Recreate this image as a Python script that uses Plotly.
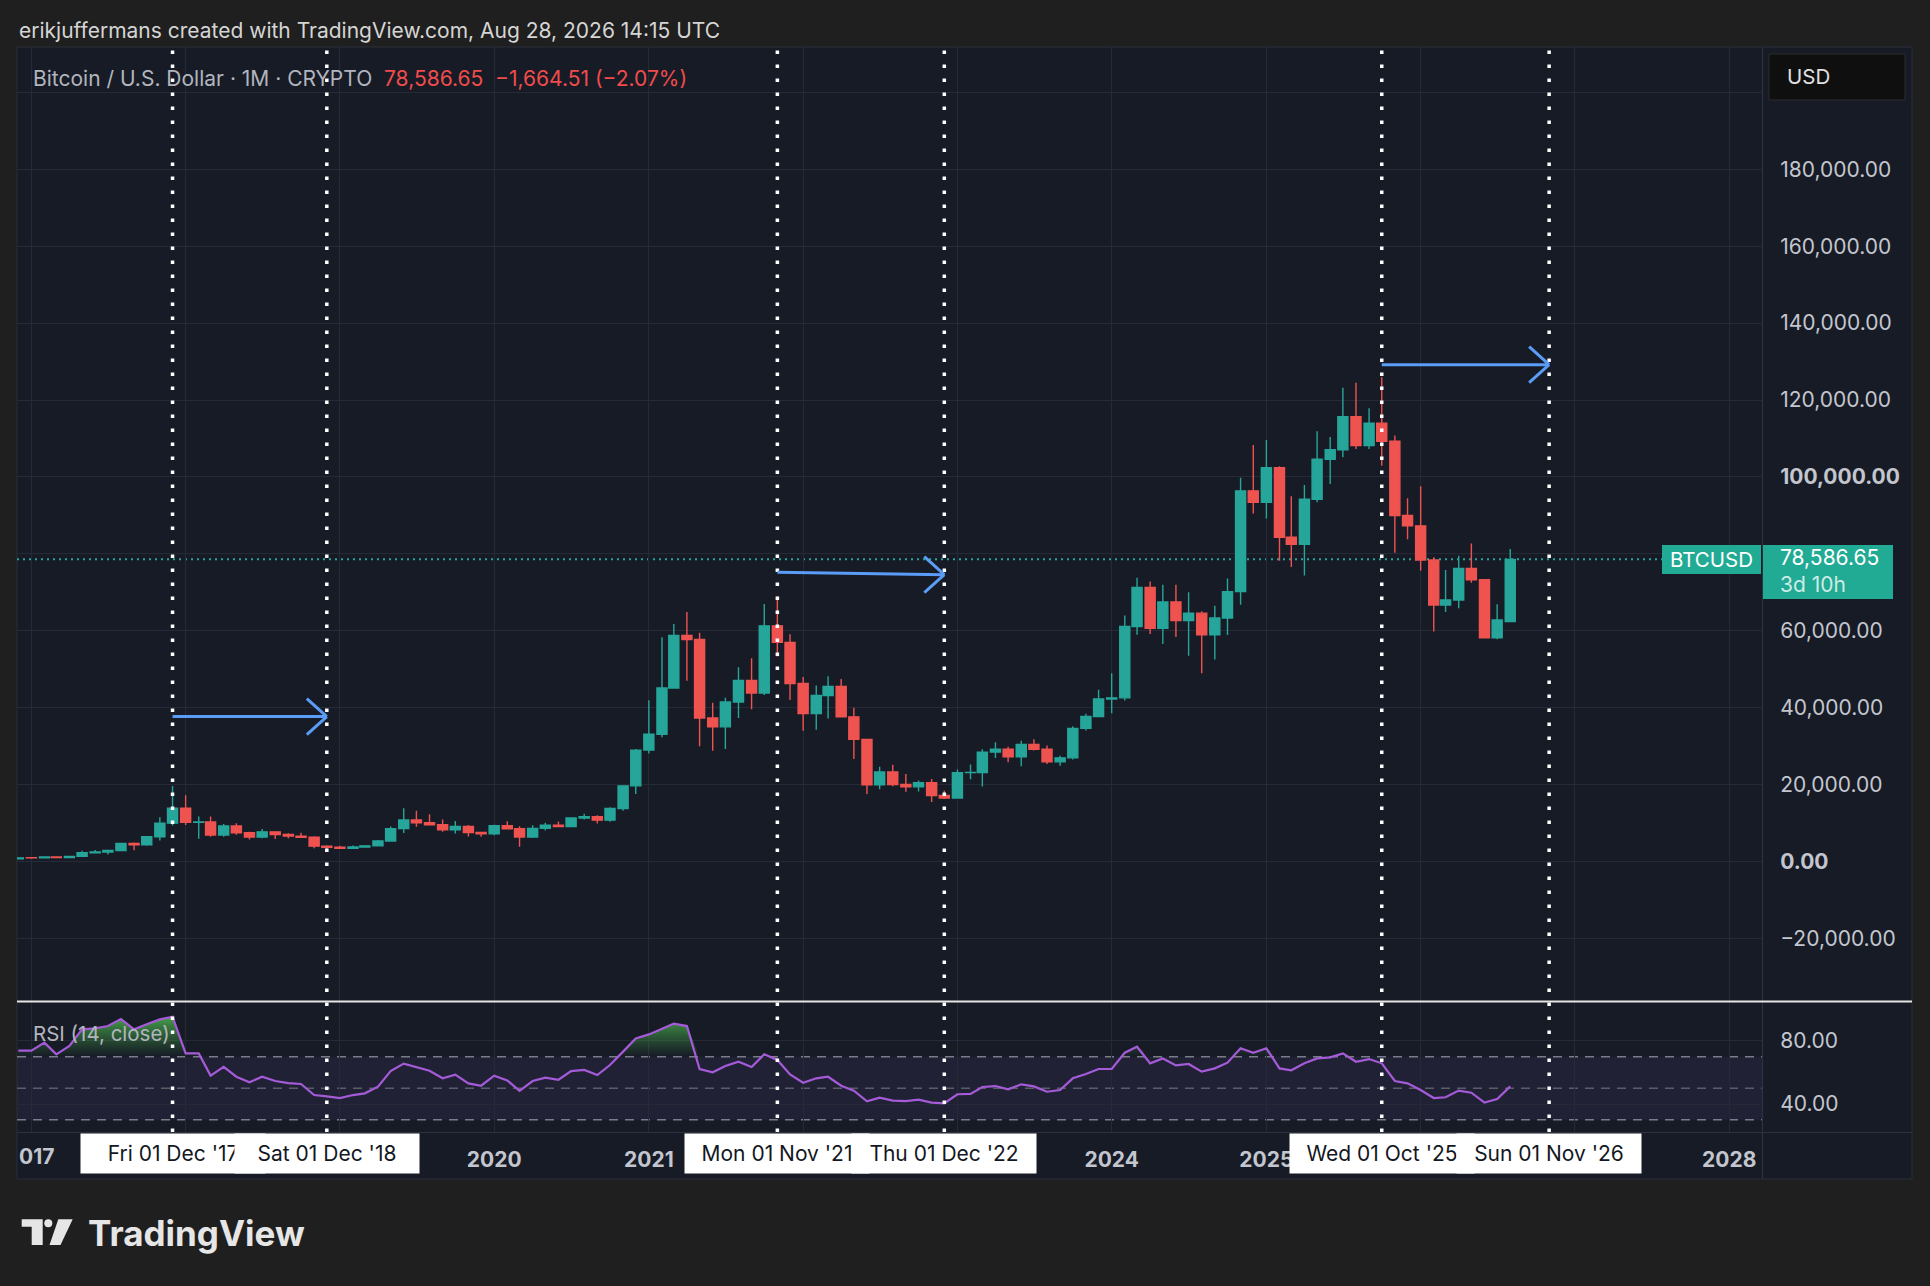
import numpy as np
import pandas as pd
import plotly.graph_objects as go

# ---- data (monthly BTCUSD, Dec 2016 .. Aug 2026) ----
months = pd.date_range("2016-12-01", "2026-08-01", freq="MS")

opens = [750,
         998, 965, 1190, 1080, 1350, 2300, 2480, 2875, 4700, 4340, 6450, 10000,
         13880, 10200, 10300, 6900, 9250, 7500, 6390, 7730, 7030, 6630, 6320, 4020,
         3740, 3460, 3810, 4100, 5350, 8570, 10820, 10090, 9600, 8300, 9150, 7550,
         7200, 9350, 8540, 6410, 8630, 9450, 9140, 11350, 11650, 10780, 13800, 19700,
         28990, 33110, 45140, 58800, 57750, 37330, 35040, 41490, 47100, 43820, 61300, 57000,
         46300, 38470, 43190, 45540, 37640, 31790, 19940, 23290, 20050, 19430, 20490, 17170,
         16540, 23130, 23150, 28470, 29250, 27220, 30470, 29230, 25940, 26970, 34640, 37720,
         42280, 42580, 61130, 71300, 60640, 67500, 62700, 64600, 58970, 63330, 70200, 96400,
         93400, 102400, 84350, 82500, 94200, 104600, 107100, 115700, 108200, 114000, 109300, 90000,
         87300, 78400, 66700, 68000, 76200, 73300, 58200, 62400]
highs = [980,
         1190, 1200, 1290, 1350, 2790, 3000, 2950, 4750, 4980, 6470, 11500, 19666,
         17250, 11700, 11700, 9750, 10000, 7780, 8490, 7760, 7400, 7500, 6600, 4250,
         4100, 4200, 4130, 5600, 9100, 13880, 13200, 12300, 10950, 10550, 9500, 7750,
         9600, 10500, 9190, 9460, 10080, 10400, 11450, 12470, 12070, 14100, 19850, 29300,
         41950, 58350, 61800, 64900, 59500, 41330, 42600, 50500, 52900, 67000, 69000, 59100,
         47990, 45800, 48200, 47450, 40000, 31960, 24650, 25200, 22800, 21100, 21450, 18400,
         23960, 25250, 29200, 31000, 29850, 31400, 31800, 30200, 27500, 35200, 38450, 44700,
         48970, 64000, 73800, 72800, 71950, 71950, 70000, 65100, 66500, 73600, 99800, 108300,
         109600, 102800, 95000, 97900, 111900, 110400, 123200, 124500, 117900, 125900, 110800, 94500,
         97600, 79100, 75800, 79500, 82700, 73500, 66900, 81300]
lows = [740,
        750, 915, 890, 1060, 1350, 2080, 1830, 2670, 2970, 4100, 5500, 9400,
        9500, 5950, 6450, 6450, 7000, 5750, 6070, 5880, 6100, 6200, 3500, 3150,
        3350, 3400, 3740, 4100, 5330, 7450, 9070, 9400, 7730, 7300, 6520, 6430,
        6850, 8450, 3850, 6150, 8100, 8900, 8950, 10970, 9880, 10370, 13200, 17600,
        28130, 32300, 45000, 47000, 30000, 28800, 29300, 37330, 39600, 43300, 53300, 42000,
        34000, 34300, 37200, 37700, 26700, 17600, 18800, 19600, 18150, 18200, 15480, 16300,
        16500, 21400, 19550, 26950, 25800, 24800, 28900, 25350, 24900, 26550, 34100, 37600,
        38550, 41880, 59000, 59200, 56550, 58400, 53500, 49000, 52550, 58900, 66800, 90500,
        89200, 78200, 76600, 74400, 93400, 98200, 105100, 107300, 107300, 102900, 80300, 83800,
        75600, 59800, 64900, 65900, 72500, 58000, 57800, 62300]
closes = [963,
          965, 1190, 1080, 1350, 2300, 2480, 2875, 4700, 4340, 6450, 10000, 13880,
          10200, 10300, 6900, 9250, 7500, 6390, 7730, 7030, 6630, 6320, 4020, 3740,
          3460, 3810, 4100, 5350, 8570, 10820, 10090, 9600, 8300, 9150, 7550, 7200,
          9350, 8540, 6410, 8630, 9450, 9140, 11350, 11650, 10780, 13800, 19700, 28990,
          33110, 45140, 58800, 57750, 37330, 35040, 41490, 47100, 43820, 61300, 57000, 46300,
          38470, 43190, 45540, 37640, 31790, 19940, 23290, 20050, 19430, 20490, 17170, 16540,
          23130, 23150, 28470, 29250, 27220, 30470, 29230, 25940, 26970, 34640, 37720, 42280,
          42580, 61130, 71300, 60640, 67500, 62700, 64600, 58970, 63330, 70200, 96400, 93400,
          102400, 84350, 82500, 94200, 104600, 107100, 115700, 108200, 114000, 109300, 90000, 87300,
          78400, 66700, 68000, 76200, 73300, 58200, 62800, 78586.65]

rsi = [73.8,
       73.8, 78.9, 71.5, 76.8, 87.3, 87.9, 89.4, 93.8, 87.3, 90.5, 93.6, 95.3,
       72.1, 72.1, 58.0, 63.5, 57.3, 53.8, 57.3, 54.6, 53.3, 52.7, 45.7, 44.9,
       43.8, 45.7, 46.8, 51.0, 60.9, 65.6, 63.2, 61.1, 56.3, 58.6, 53.1, 51.6,
       58.0, 55.0, 48.3, 54.6, 56.7, 55.4, 60.9, 61.6, 58.4, 64.7, 73.2, 81.6,
       84.1, 87.9, 90.9, 89.4, 62.2, 60.1, 64.1, 66.8, 63.5, 71.5, 67.9, 58.8,
       53.5, 56.3, 57.3, 51.6, 48.5, 41.7, 44.1, 42.2, 41.9, 42.8, 40.9, 40.5,
       46.2, 46.4, 50.8, 51.4, 49.3, 52.5, 51.2, 47.8, 48.9, 56.3, 59.0, 62.2,
       62.2, 72.5, 76.3, 65.8, 68.9, 64.5, 65.4, 60.5, 62.6, 66.2, 75.3, 72.5,
       75.3, 62.6, 61.4, 65.8, 68.9, 69.6, 72.1, 66.8, 68.5, 65.8, 54.6, 53.1,
       48.9, 43.8, 44.3, 48.5, 47.2, 40.9, 43.2, 51.2]

last_price = 78586.65

# vertical marker dates and the arrows drawn between them
marker_dates = ["2017-12-01", "2018-12-01", "2021-11-01", "2022-12-01", "2025-10-01", "2026-11-01"]
marker_labels = ["Fri 01 Dec '17", "Sat 01 Dec '18", "Mon 01 Nov '21", "Thu 01 Dec '22",
                 "Wed 01 Oct '25", "Sun 01 Nov '26"]
arrow_start = ["2017-12-01", "2021-11-01", "2025-10-01"]
arrow_end = ["2018-12-01", "2022-12-01", "2026-11-01"]
arrow_p0 = [37700, 75200, 129200]
arrow_p1 = [37700, 74600, 129200]

price_ticks = list(range(-20000, 200001, 20000))
year_ticks = [f"{y}-01-01" for y in range(2017, 2029)]
year_text = ["" if y == 2017 else f"<b>{y}</b>" for y in range(2017, 2029)]

# ---- look ----
W, H = 1930, 1286
L, R, T, B = 17, 167, 47, 154
PW, PH = W - L - R, H - T - B


def fx(px):
    return (px - L) / PW


def fy(py):
    return (H - B - py) / PH


TEAL = "#26a69a"
RED = "#ef5350"
BG = "#171b26"
GRID = "#262a36"
TXT = "#c3c6ce"
BLUE = "#5b9cf6"
FONT = "Inter"


def price_label(v):
    if v == 200000:  # hidden behind the USD box
        return ""
    s = f"{abs(v):,.2f}"
    if v < 0:
        s = "\u2212" + s
    if v in (0, 100000):
        s = f"<b>{s}</b>"
    return s


fig = go.Figure()

fig.add_trace(go.Candlestick(
    x=months, open=opens, high=highs, low=lows, close=closes,
    increasing=dict(line=dict(color=TEAL, width=1.4), fillcolor=TEAL),
    decreasing=dict(line=dict(color=RED, width=1.4), fillcolor=RED),
    whiskerwidth=0, xaxis="x", yaxis="y", hoverinfo="skip", showlegend=False))

# RSI overbought fill (green) between 70 and the RSI line
rsi_arr = np.array(rsi)
fig.add_trace(go.Scatter(x=months, y=[70] * len(months), mode="lines",
                         line=dict(width=0), xaxis="x", yaxis="y2",
                         hoverinfo="skip", showlegend=False))
fig.add_trace(go.Scatter(x=months, y=np.maximum(rsi_arr, 70), mode="lines",
                         line=dict(width=0), fill="tonexty",
                         fillgradient=dict(type="vertical",
                                           colorscale=[[0, "rgba(56,142,60,0.0)"],
                                                       [1, "rgba(76,175,80,0.9)"]]),
                         xaxis="x", yaxis="y2", hoverinfo="skip", showlegend=False))
fig.add_trace(go.Scatter(x=months, y=rsi, mode="lines",
                         line=dict(color="#a55bd8", width=2.2),
                         xaxis="x", yaxis="y2", hoverinfo="skip", showlegend=False))

shapes = []
# panel background
shapes.append(dict(type="rect", xref="paper", yref="paper", x0=fx(17), x1=fx(1912),
                   y0=fy(47), y1=fy(1179), fillcolor=BG,
                   line=dict(color="#2a2e39", width=1), layer="below"))
# RSI band and level lines
shapes.append(dict(type="rect", xref="x domain", yref="y2", x0=0, x1=1, y0=30, y1=70,
                   fillcolor="rgba(126,87,194,0.10)", line=dict(width=0), layer="below"))
for lvl, col in [(70, "#7a7d88"), (50, "#5a5d68"), (30, "#7a7d88")]:
    shapes.append(dict(type="line", xref="x domain", yref="y2", x0=0, x1=1, y0=lvl, y1=lvl,
                       line=dict(color=col, width=1.5, dash="9px,7px"), layer="below"))
# last price dotted line
shapes.append(dict(type="line", xref="x domain", yref="y", x0=0, x1=fx(1662),
                   y0=last_price, y1=last_price,
                   line=dict(color=TEAL, width=2, dash="2px,4px"), layer="below"))
# frame lines
shapes.append(dict(type="line", xref="paper", yref="paper", x0=fx(1762.5), x1=fx(1762.5),
                   y0=fy(47), y1=fy(1179), line=dict(color="#2e3240", width=1.2)))
shapes.append(dict(type="line", xref="paper", yref="paper", x0=fx(17), x1=fx(1912),
                   y0=fy(1132.5), y1=fy(1132.5), line=dict(color="#2e3240", width=1.2)))
shapes.append(dict(type="line", xref="paper", yref="paper", x0=fx(17), x1=fx(1912),
                   y0=fy(1001.5), y1=fy(1001.5), line=dict(color="#e6e6e6", width=2)))
# vertical dotted markers
for d in marker_dates:
    shapes.append(dict(type="line", xref="x", yref="paper", x0=d, x1=d, y0=0, y1=1,
                       line=dict(color="white", width=3.5, dash="3.5px,10.5px")))
# arrows
for s, e, p0, p1 in zip(arrow_start, arrow_end, arrow_p0, arrow_p1):
    shapes.append(dict(type="line", xref="x", yref="y", x0=s, x1=e, y0=p0, y1=p1,
                       line=dict(color=BLUE, width=3)))
    for dy in (18, -18):
        shapes.append(dict(type="line", xref="x", yref="y", xsizemode="pixel",
                           ysizemode="pixel", xanchor=e, yanchor=p1,
                           x0=-20, x1=0, y0=dy, y1=0, line=dict(color=BLUE, width=3)))
# USD box, symbol and price labels
shapes.append(dict(type="rect", xref="paper", yref="paper", x0=fx(1769), x1=fx(1905),
                   y0=fy(54), y1=fy(100), fillcolor="#0f0f10",
                   line=dict(color="#2c2c2e", width=1)))
shapes.append(dict(type="rect", xref="paper", yref="paper", x0=fx(1662), x1=fx(1761),
                   y0=fy(545), y1=fy(574), fillcolor="#22ab94", line=dict(width=0)))
shapes.append(dict(type="rect", xref="paper", yref="paper", x0=fx(1763), x1=fx(1893),
                   y0=fy(545), y1=fy(599), fillcolor="#22ab94", line=dict(width=0)))
# TradingView logo mark
pt = lambda x, y: f"{fx(x):.5f},{fy(y):.5f}"
shapes.append(dict(type="path", xref="paper", yref="paper",
                   path=f"M{pt(21.7, 1219.3)} L{pt(42.7, 1219.3)} L{pt(42.7, 1245)} "
                        f"L{pt(31.7, 1245)} L{pt(31.7, 1226.7)} L{pt(21.7, 1226.7)} Z",
                   fillcolor="#e6e6e6", line=dict(width=0)))
shapes.append(dict(type="circle", xref="paper", yref="paper", x0=fx(44.3), x1=fx(52.3),
                   y0=fy(1219.3), y1=fy(1227.3), fillcolor="#e6e6e6", line=dict(width=0)))
shapes.append(dict(type="path", xref="paper", yref="paper",
                   path=f"M{pt(58.3, 1219.3)} L{pt(72.7, 1219.3)} L{pt(60.5, 1245)} "
                        f"L{pt(49.5, 1245)} Z",
                   fillcolor="#e6e6e6", line=dict(width=0)))

ann = []
ann.append(dict(text="erikjuffermans created with TradingView.com, Aug 28, 2026 14:15 UTC",
                x=fx(17), y=fy(31), xanchor="left", yanchor="middle",
                font=dict(size=21, color="#d5d5d5")))
ann.append(dict(text="Bitcoin / U.S. Dollar \u00b7 1M \u00b7 CRYPTO  "
                     "<span style='color:#f04c4c'>78,586.65  \u22121,664.51 (\u22122.07%)</span>",
                x=fx(31), y=fy(78), xanchor="left", yanchor="middle",
                font=dict(size=21, color="#b2b5be")))
ann.append(dict(text="RSI (14, close)", x=fx(31), y=fy(1033), xanchor="left", yanchor="middle",
                font=dict(size=20.5, color="#b2b5be")))
ann.append(dict(text="USD", x=fx(1785), y=fy(77), xanchor="left", yanchor="middle",
                font=dict(size=20.5, color="#e0e0e0")))
ann.append(dict(text="BTCUSD", x=fx(1711.5), y=fy(559.5), xanchor="center", yanchor="middle",
                font=dict(size=20.5, color="white")))
ann.append(dict(text=f"{last_price:,.2f}", x=fx(1778), y=fy(557), xanchor="left",
                yanchor="middle", font=dict(size=21, color="white")))
ann.append(dict(text="3d 10h", x=fx(1778), y=fy(584), xanchor="left", yanchor="middle",
                font=dict(size=21, color="rgba(255,255,255,0.78)")))
ann.append(dict(text="<b>017</b>", x=fx(17), y=fy(1156), xanchor="left", yanchor="middle",
                font=dict(size=21, color=TXT)))
for d, lab in zip(marker_dates, marker_labels):
    ann.append(dict(text=lab, x=d, xref="x", y=fy(1153.5), yref="paper",
                    xanchor="center", yanchor="middle", bgcolor="white",
                    width=172, height=27, borderpad=6,
                    font=dict(size=21, color="#131722")))
ann.append(dict(text="<b>TradingView</b>", x=fx(86), y=fy(1233), xanchor="left",
                yanchor="middle", font=dict(size=35, color="#e6e6e6")))
for a in ann:
    a.setdefault("xref", "paper")
    a.setdefault("yref", "paper")
    a["showarrow"] = False

fig.update_layout(
    template="none",
    width=W, height=H,
    margin=dict(l=L, r=R, t=T, b=B, pad=0),
    paper_bgcolor="#1f1f1f",
    plot_bgcolor=BG,
    font=dict(family=FONT, size=20, color=TXT),
    showlegend=False,
    hovermode=False,
    boxgap=0.15,
    boxgroupgap=0,
    shapes=shapes,
    annotations=ann,
    xaxis=dict(type="date", range=["2016-11-28", "2028-03-21"], anchor="y2",
               tickvals=year_ticks, ticktext=year_text, tickfont=dict(size=21, color=TXT),
               ticks="outside", ticklen=9, tickcolor="rgba(0,0,0,0)",
               showgrid=True, gridcolor=GRID, gridwidth=1, zeroline=False,
               showline=False, rangeslider=dict(visible=False), automargin=False),
    yaxis=dict(domain=[fy(1001), 1], range=[-36244, 211796], side="right", anchor="x",
               tickvals=price_ticks, ticktext=[price_label(v) for v in price_ticks],
               tickfont=dict(size=21, color=TXT), ticks="outside", ticklen=12,
               tickcolor="rgba(0,0,0,0)", showgrid=True, gridcolor=GRID, gridwidth=1,
               zeroline=False, showline=False, automargin=False),
    yaxis2=dict(domain=[0, fy(1003)], range=[22.3, 104], side="right", anchor="x",
                tickvals=[40, 80], ticktext=["40.00", "80.00"],
                tickfont=dict(size=21, color=TXT), ticks="outside", ticklen=12,
                tickcolor="rgba(0,0,0,0)", showgrid=True, gridcolor=GRID, gridwidth=1,
                zeroline=False, showline=False, automargin=False),
)

fig.write_html("out.html", config={"displayModeBar": False},
               post_script="document.body.style.margin='0';"
                           "document.body.style.background='#1f1f1f';")
